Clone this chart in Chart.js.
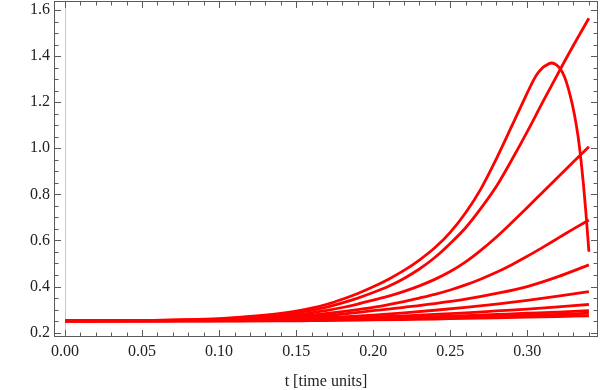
<!DOCTYPE html>
<html>
<head>
<meta charset="utf-8">
<script src="https://cdn.jsdelivr.net/npm/chart.js@4/dist/chart.umd.min.js"></script>
<style>
  html, body { margin: 0; padding: 0; background: #ffffff; }
  #wrap { width: 600px; height: 390px; }
</style>
</head>
<body>
<div id="wrap"><canvas id="c" width="600" height="390"></canvas></div>
<script>
// ---- data ----
const xTickLabels = [0.00, 0.05, 0.10, 0.15, 0.20, 0.25, 0.30];
const yTickLabels = [0.2, 0.4, 0.6, 0.8, 1.0, 1.2, 1.4, 1.6];
const xTitle = "t [time units]";

// curve that rises, peaks and collapses
const tA = [0, 0.05, 0.08, 0.10, 0.12, 0.14, 0.15, 0.16, 0.17, 0.18, 0.19, 0.20, 0.21, 0.22, 0.23, 0.24, 0.25, 0.26, 0.27, 0.28, 0.29, 0.30, 0.303, 0.306, 0.309, 0.312, 0.3158, 0.318, 0.3205, 0.323, 0.3255, 0.328, 0.3305, 0.333, 0.335, 0.3365, 0.338, 0.34];
const vA = [0.251, 0.252, 0.256, 0.261, 0.270, 0.283, 0.293, 0.306, 0.323, 0.345, 0.370, 0.399, 0.432, 0.470, 0.515, 0.568, 0.635, 0.720, 0.825, 0.955, 1.097, 1.240, 1.282, 1.318, 1.343, 1.359, 1.370, 1.366, 1.352, 1.327, 1.285, 1.225, 1.150, 1.050, 0.940, 0.840, 0.725, 0.551];

// fine time grid for the steeper curves
const tFine = [0, 0.05, 0.08, 0.10, 0.12, 0.14, 0.15, 0.16, 0.17, 0.18, 0.19, 0.20, 0.21, 0.22, 0.23, 0.24, 0.25, 0.26, 0.27, 0.28, 0.29, 0.30, 0.31, 0.32, 0.33, 0.34];
const vB = [0.251, 0.252, 0.255, 0.259, 0.267, 0.278, 0.286, 0.297, 0.311, 0.329, 0.350, 0.374, 0.401, 0.435, 0.476, 0.526, 0.587, 0.655, 0.740, 0.835, 0.950, 1.072, 1.200, 1.325, 1.447, 1.564];
const vC = [0.251, 0.252, 0.254, 0.257, 0.263, 0.272, 0.278, 0.286, 0.297, 0.309, 0.324, 0.341, 0.358, 0.379, 0.403, 0.431, 0.465, 0.507, 0.558, 0.615, 0.678, 0.743, 0.809, 0.875, 0.941, 1.007];
const vD = [0.251, 0.251, 0.253, 0.255, 0.259, 0.265, 0.270, 0.276, 0.283, 0.291, 0.300, 0.310, 0.322, 0.335, 0.350, 0.366, 0.385, 0.407, 0.433, 0.462, 0.495, 0.531, 0.570, 0.610, 0.650, 0.689];

// coarser time grid for the flatter curves
const tGrid = [0, 0.05, 0.08, 0.10, 0.12, 0.14, 0.16, 0.18, 0.20, 0.22, 0.24, 0.26, 0.28, 0.30, 0.32, 0.34];
const vE = [0.251, 0.251, 0.252, 0.254, 0.257, 0.261, 0.268, 0.280, 0.295, 0.310, 0.326, 0.345, 0.370, 0.400, 0.443, 0.494];
const vF = [0.251, 0.251, 0.252, 0.253, 0.255, 0.257, 0.262, 0.268, 0.276, 0.286, 0.297, 0.310, 0.324, 0.340, 0.358, 0.378];
const vG = [0.251, 0.251, 0.251, 0.252, 0.253, 0.255, 0.258, 0.262, 0.267, 0.273, 0.279, 0.286, 0.294, 0.302, 0.312, 0.322];
const vH = [0.251, 0.251, 0.251, 0.251, 0.252, 0.253, 0.255, 0.258, 0.261, 0.265, 0.269, 0.274, 0.279, 0.284, 0.289, 0.295];
const vI = [0.251, 0.251, 0.251, 0.251, 0.251, 0.252, 0.254, 0.256, 0.258, 0.261, 0.264, 0.268, 0.272, 0.275, 0.279, 0.284];
const vJ = [0.251, 0.251, 0.251, 0.251, 0.251, 0.251, 0.252, 0.253, 0.255, 0.257, 0.259, 0.262, 0.264, 0.267, 0.270, 0.273];

// ---- build datasets ----
function pts(ts, vs) { return ts.map((t, i) => ({ x: t, y: vs[i] })); }
const series = [pts(tA, vA), pts(tFine, vB), pts(tFine, vC), pts(tFine, vD), pts(tGrid, vE),
                pts(tGrid, vF), pts(tGrid, vG), pts(tGrid, vH), pts(tGrid, vI), pts(tGrid, vJ)];
const datasets = series.map(d => ({
  data: d,
  borderColor: '#ff0000',
  borderWidth: 2.8,
  pointRadius: 0,
  fill: false,
  cubicInterpolationMode: 'monotone'
}));

const FRAME = '#5a5a5a';

const framePlugin = {
  id: 'frame',
  beforeDatasetsDraw(chart) {
    const ctx = chart.ctx, a = chart.chartArea, xs = chart.scales.x;
    const x0 = Math.round(xs.getPixelForValue(0)) + 0.5;
    ctx.save();
    ctx.strokeStyle = '#c8c8c8';
    ctx.lineWidth = 1;
    ctx.beginPath(); ctx.moveTo(x0, a.top); ctx.lineTo(x0, a.bottom); ctx.stroke();
    ctx.restore();
  },
  afterDraw(chart) {
    const ctx = chart.ctx, a = chart.chartArea, xs = chart.scales.x, ys = chart.scales.y;
    const L = Math.round(a.left) + 0.5, R = Math.round(a.right) - 0.5;
    const T = Math.round(a.top) + 0.5, B = Math.round(a.bottom) - 0.5;
    ctx.save();
    ctx.strokeStyle = FRAME;
    ctx.lineWidth = 1;
    ctx.strokeRect(L, T, R - L, B - T);
    ctx.beginPath();
    for (let i = 0; i <= 34; i++) {
      const v = i * 0.01;
      const major = i % 5 === 0;
      const len = major ? 6.5 : 4;
      const px = Math.round(xs.getPixelForValue(v)) + 0.5;
      ctx.moveTo(px, B); ctx.lineTo(px, B - len);
      ctx.moveTo(px, T); ctx.lineTo(px, T + len);
    }
    for (let i = 4; i <= 32; i++) {
      const v = i * 0.05;
      const major = i % 4 === 0;
      const len = major ? 6.5 : 4;
      const py = Math.round(ys.getPixelForValue(v)) + 0.5;
      ctx.moveTo(L, py); ctx.lineTo(L + len, py);
      ctx.moveTo(R, py); ctx.lineTo(R - len, py);
    }
    ctx.stroke();
    ctx.restore();
  }
};

const fontFam = '"Liberation Serif", "Times New Roman", serif';

new Chart(document.getElementById('c'), {
  type: 'line',
  data: { datasets },
  options: {
    responsive: false,
    animation: false,
    events: [],
    layout: { padding: { top: 1, right: 2, left: 0, bottom: 0 } },
    plugins: { legend: { display: false }, tooltip: { enabled: false } },
    scales: {
      x: {
        type: 'linear',
        min: -0.00714,
        max: 0.3459,
        grid: { display: false, drawTicks: false },
        border: { display: false },
        afterBuildTicks(s) { s.ticks = xTickLabels.map(v => ({ value: v })); },
        afterFit(s) { s.height = 53; s.paddingLeft = 0; s.paddingRight = 0; },
        ticks: {
          color: '#222',
          font: { family: fontFam, size: 16 },
          padding: 5,
          maxRotation: 0,
          autoSkip: false,
          callback: v => Number(v).toFixed(2)
        },
        title: {
          display: true,
          text: xTitle,
          color: '#222',
          font: { family: fontFam, size: 16 },
          padding: { top: 0, bottom: -1 }
        }
      },
      y: {
        type: 'linear',
        min: 0.181,
        max: 1.639,
        grid: { display: false, drawTicks: false },
        border: { display: false },
        afterBuildTicks(s) { s.ticks = yTickLabels.map(v => ({ value: v })); },
        afterFit(s) { s.width = 54; s.paddingTop = 0; s.paddingBottom = 0; },
        ticks: {
          color: '#222',
          font: { family: fontFam, size: 16 },
          padding: 4,
          autoSkip: false,
          callback: v => Number(v).toFixed(1)
        }
      }
    }
  },
  plugins: [framePlugin]
});
</script>
</body>
</html>
